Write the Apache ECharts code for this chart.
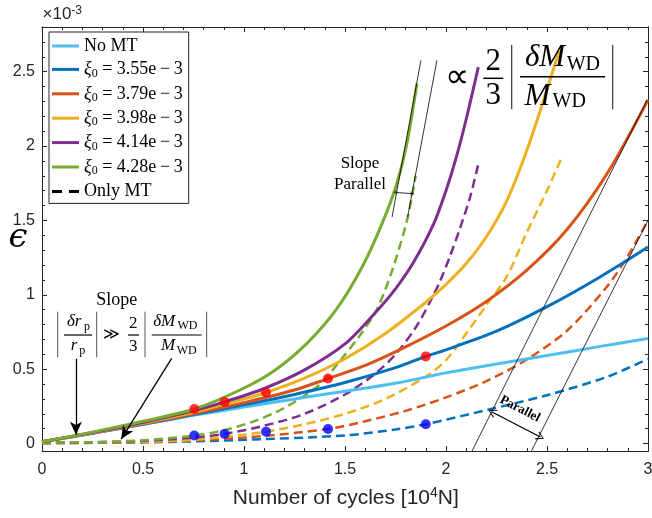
<!DOCTYPE html>
<html><head><meta charset="utf-8">
<script src="https://cdn.jsdelivr.net/npm/echarts@6/dist/echarts.min.js"></script>
<style>html,body{margin:0;padding:0;background:#fff}#c{width:652px;height:518px}</style>
</head><body><div id="c"></div>
<script>
// ---------- data (x in 10^4 N, y in 10^-3) ----------
const xTicks = [0, 0.5, 1, 1.5, 2, 2.5, 3];
const yTicks = [0, 0.5, 1, 1.5, 2, 2.5];
const yMinorTicks = [0,0.1,0.2,0.3,0.4,0.5,0.6,0.7,0.8,0.9,1.0,1.1,1.2,1.3,1.4,1.5,1.6,1.7,1.8,1.9,2.0,2.1,2.2,2.3,2.4,2.5,2.6,2.7,2.8];
const xRange = [0, 3];
const yRange = [-0.05, 2.8];

const legendNames = ['No MT', 'ξ0 = 3.55e−3', 'ξ0 = 3.79e−3', 'ξ0 = 3.98e−3', 'ξ0 = 4.14e−3', 'ξ0 = 4.28e−3', 'Only MT'];

const xNoMT = [0, 0.25, 0.5, 0.75, 1.0, 1.25, 1.5, 1.75, 2.0, 2.25, 2.5, 2.75, 3.0];
const yNoMT = [0.012, 0.07, 0.13, 0.19, 0.245, 0.3, 0.352, 0.405, 0.475, 0.535, 0.592, 0.65, 0.706];

const x355 = [0, 0.25, 0.5, 0.75, 1.0, 1.25, 1.5, 1.75, 1.9, 2.0, 2.25, 2.5, 2.75, 3.0];
const y355 = [0.012, 0.07, 0.13, 0.195, 0.26, 0.33, 0.41, 0.51, 0.586, 0.63, 0.755, 0.92, 1.11, 1.321];

const x379 = [0, 0.25, 0.5, 0.75, 1.0, 1.25, 1.416, 1.6, 1.8, 2.0, 2.2, 2.4, 2.6, 2.8, 3.0];
const y379 = [0.012, 0.071, 0.133, 0.2, 0.275, 0.36, 0.437, 0.525, 0.65, 0.79, 0.955, 1.165, 1.44, 1.82, 2.31];

const x398 = [0, 0.25, 0.5, 0.75, 1.0, 1.109, 1.3, 1.5, 1.7, 1.9, 2.0, 2.1, 2.2, 2.3, 2.4, 2.5, 2.56];
const y398 = [0.012, 0.072, 0.137, 0.21, 0.3, 0.343, 0.44, 0.57, 0.74, 0.95, 1.07, 1.21, 1.39, 1.63, 1.97, 2.38, 2.64];

const x414 = [0, 0.25, 0.5, 0.75, 0.904, 1.1, 1.3, 1.5, 1.65, 1.75, 1.84, 1.94, 2.0, 2.05, 2.1, 2.16];
const y414 = [0.012, 0.074, 0.142, 0.22, 0.28, 0.37, 0.495, 0.67, 0.88, 1.04, 1.22, 1.48, 1.7, 1.92, 2.18, 2.53];

const x428 = [0, 0.25, 0.5, 0.754, 0.98, 1.15, 1.31, 1.46, 1.59, 1.69, 1.757, 1.807, 1.856];
const y428 = [0.012, 0.077, 0.15, 0.232, 0.36, 0.49, 0.672, 0.907, 1.2, 1.5, 1.75, 2.02, 2.42];

// only mass transfer (dashed)
const xd355 = [0, 0.5, 1.0, 1.5, 1.75, 1.9, 2.2, 2.5, 2.8, 3.0];
const yd355 = [0.003, 0.008, 0.025, 0.055, 0.095, 0.13, 0.225, 0.325, 0.45, 0.57];

const xd379 = [0, 0.5, 1.0, 1.416, 1.6, 1.8, 2.0, 2.2, 2.4, 2.6, 2.8, 2.9, 3.0];
const yd379 = [0.004, 0.01, 0.04, 0.098, 0.15, 0.22, 0.31, 0.42, 0.565, 0.76, 1.06, 1.26, 1.5];

const xd398 = [0, 0.5, 0.75, 1.0, 1.109, 1.3, 1.5, 1.7, 1.9, 2.0, 2.1, 2.2, 2.3, 2.4, 2.5, 2.57];
const yd398 = [0.004, 0.012, 0.025, 0.06, 0.08, 0.13, 0.2, 0.3, 0.45, 0.56, 0.74, 0.93, 1.12, 1.42, 1.7, 1.915];

const xd414 = [0, 0.25, 0.5, 0.75, 0.904, 1.1, 1.3, 1.5, 1.65, 1.75, 1.85, 1.92, 1.97, 2.02, 2.07, 2.12, 2.16];
const yd414 = [0.004, 0.008, 0.018, 0.04, 0.065, 0.12, 0.2, 0.33, 0.47, 0.6, 0.78, 0.95, 1.09, 1.26, 1.45, 1.66, 1.88];

const xd428 = [0, 0.25, 0.5, 0.754, 0.9, 1.05, 1.2, 1.378, 1.477, 1.57, 1.657, 1.73, 1.807, 1.85];
const yd428 = [0.004, 0.01, 0.022, 0.054, 0.09, 0.15, 0.24, 0.4, 0.56, 0.72, 0.9, 1.15, 1.5, 1.8];

// marker dots
const xMarks = [0.754, 0.904, 1.109, 1.416, 1.9];
const yRedMarks = [0.232, 0.28, 0.343, 0.437, 0.586];
const yBlueMarks = [0.054, 0.065, 0.08, 0.098, 0.13];

// annotation guide lines
const xSlopeA = [1.733, 1.876], ySlopeA = [1.523, 2.576];
const xSlopeB = [1.810, 1.955], ySlopeB = [1.523, 2.576];
const xParC = [2.129, 2.995], yParC = [-0.05, 2.307];
const xParD = [2.423, 3.0], yParD = [-0.05, 1.5];
// arrows [start, end]
const arrowA = [[0.168, 0.57], [0.168, 0.06]];
const arrowB = [[0.642, 0.573], [0.392, 0.03]];
const arrowSlope = [[1.749, 1.688], [1.832, 1.68]];
const arrowPar = [[2.228, 0.212], [2.467, 0.044]];

// ---------- chart ----------
const SERIF = 'Liberation Serif';
const SANS = 'Liberation Sans';
const AX = '#262626';
const COL = {nomt:'#4DBEEE', b:'#0072BD', o:'#D95319', y:'#EDB120', p:'#7E2F8E', g:'#77AC30'};

function pairs(xs, ys){ return xs.map((x,i)=>[x, ys[i]]); }
function solidS(name, xs, ys, color){
  return {type:'line', name, data:pairs(xs,ys), symbol:'none', smooth:0.3,
    lineStyle:{color, width:3}, itemStyle:{color}, z:3, silent:true};
}
function dashS(name, xs, ys, color){
  return {type:'line', name, data:pairs(xs,ys), symbol:'none', smooth:0.3,
    lineStyle:{color, width:2.5, type:[9,5]}, itemStyle:{color}, z:2, silent:true};
}
function thinS(name, xs, ys, extra){
  return Object.assign({type:'line', name, data:pairs(xs,ys), symbol:'none',
    lineStyle:{color:'#000', width:0.8}, itemStyle:{color:'#000'}, z:4, silent:true}, extra||{});
}
function T(x, y, text, size, opt){
  opt = opt||{};
  const a = opt.align||'center', v = opt.valign||'middle';
  return {type:'text', x, y, z:100, silent:true, rotation: opt.rotation||0,
    style:{text, fill:opt.color||'#000', fontFamily:opt.family||SERIF, fontSize:size,
      fontStyle:opt.italic?'italic':'normal', fontWeight:opt.bold?'bold':'normal',
      align:a, textAlign:a, verticalAlign:v, textVerticalAlign:v, rich:opt.rich}};
}
function L(x1,y1,x2,y2,w,color){
  return {type:'line', z:100, silent:true, shape:{x1,y1,x2,y2}, style:{stroke:color||'#000', lineWidth:w||1}};
}
const chev = 'path://M5,0 L10,10 L9,10.6 L5,2.2 L1,10.6 L0,10 Z';
const iconSolid = 'path://M0,0 H27 V3 H0 Z';
const iconDash = 'path://M0,0 H10 V3 H0 Z M17,0 H27 V3 H17 Z';

const graphics = [
  // y axis name and exponent
  T(18, 238, 'ϵ', 34, {italic:true, family:'DejaVu Serif'}),
  T(42.5, 14, '{a|×10}{b|-3}', 17, {family:SANS, align:'left', color:AX, rich:{
    a:{fontFamily:SANS, fontSize:17, lineHeight:18, fill:AX, color:AX},
    b:{fontFamily:SANS, fontSize:12, lineHeight:10, verticalAlign:'top', fill:AX, color:AX}}}),
  // x axis name
  T(345.8, 498, '{a|Number of cycles [10}{b|4}{a|N]}', 21, {family:SANS, color:AX, rich:{
    a:{fontFamily:SANS, fontSize:21, lineHeight:24, fill:AX, color:AX},
    b:{fontFamily:SANS, fontSize:14, lineHeight:12, verticalAlign:'top', fill:AX, color:AX}}}),
  // left formula
  T(116.7, 300.7, 'Slope', 18),
  L(57.7,311.7,57.7,357.3,1,'#555'), L(96.7,311.7,96.7,357.3,1,'#555'),
  L(145,311.7,145,357.3,1,'#555'), L(206.7,311.7,206.7,357.3,1,'#555'),
  T(74.2, 321.7, 'δr', 17, {italic:true}), T(87, 326.7, 'p', 12),
  L(64,335,92,335,1.2),
  T(74, 346, 'r', 17, {italic:true}), T(82.2, 350.7, 'p', 12),
  T(111.7, 335, '≫', 16),
  T(133.3, 323.3, '2', 17), T(133.3, 346.7, '3', 17), L(128,335,139,335,1.2),
  T(164.2, 321.7, 'δM', 17, {italic:true}), T(187.5, 326, 'WD', 12),
  L(151.7,335,201.7,335,1.2),
  T(168, 346, 'M', 17, {italic:true}), T(186.7, 350.7, 'WD', 12),
  // big formula
  T(456.7, 78.3, '∝', 34),
  T(493.3, 61.7, '2', 31), T(493.3, 96, '3', 31), L(483.3,78.3,503.3,78.3,1.5),
  L(511.7,45,511.7,109.3,1.2,'#333'), L(612.7,45,612.7,109.3,1.2,'#333'),
  T(545, 58.3, 'δM', 31, {italic:true}), T(583.3, 65, 'WD', 20),
  L(520,76.7,605,76.7,1.5),
  T(537.5, 96.7, 'M', 31, {italic:true}), T(569.2, 101.7, 'WD', 20),
  // slope parallel label
  T(360, 164, 'Slope', 17), T(360, 184.3, 'Parallel', 17),
  // rotated Parallel
  T(520, 409, 'Parallel', 13, {bold:true, rotation:-0.478})
];

function legendFmt(name){
  if (name.indexOf('ξ0') === 0) {
    const v = name.split('=')[1].trim().replace('e−', 'e\u2009−\u2009');
    return '{i|ξ}{s|0}{n| = ' + v + '}';
  }
  return '{n|' + name + '}';
}

function yAxisCfg(pos, ticks, len, showLabel){
  return {type:'value', position:pos, min:yRange[0], max:yRange[1], gridIndex:0,
    axisLine:{show:true, onZero:false, lineStyle:{color:AX, width:1}},
    axisTick:{show:true, inside:true, length:len, customValues:ticks, lineStyle:{color:AX, width:1}},
    axisLabel:{show:showLabel, customValues:ticks, fontFamily:SANS, fontSize:16, color:AX, margin:7},
    splitLine:{show:false}, minorTick:{show:false}, minorSplitLine:{show:false}};
}
function xAxisCfg(pos, showLabel){
  return {type:'value', position:pos, min:xRange[0], max:xRange[1], interval:xTicks[1]-xTicks[0], gridIndex:0,
    axisLine:{show:true, onZero:false, lineStyle:{color:AX, width:1}},
    axisTick:{show:true, inside:true, length:5, lineStyle:{color:AX, width:1}},
    minorTick:{show:true, splitNumber:5, length:3, lineStyle:{color:AX, width:1}},
    axisLabel:{show:showLabel, fontFamily:SANS, fontSize:16, color:AX, margin:11},
    splitLine:{show:false}, minorSplitLine:{show:false}};
}

const legendData = legendNames.map(n => ({name:n, icon: n === 'Only MT' ? iconDash : iconSolid}));

const option = {
  animation:false,
  backgroundColor:'#fff',
  grid:{left:42, top:27, width:606, height:424, containLabel:false, outerBoundsMode:'none'},
  xAxis:[xAxisCfg('bottom', true), xAxisCfg('top', false)],
  yAxis:[yAxisCfg('left', yTicks, 5, true), yAxisCfg('left', yMinorTicks, 3, false),
         yAxisCfg('right', yTicks, 5, false), yAxisCfg('right', yMinorTicks, 3, false)],
  legend:{
    data:legendData, orient:'vertical', left:49, top:32,
    padding:[5,6,3,3], itemGap:5.4, itemWidth:27, itemHeight:3, symbolKeepAspect:false,
    backgroundColor:'#fff', borderColor:AX, borderWidth:1, borderRadius:0,
    selectedMode:false, formatter:legendFmt,
    textStyle:{fontFamily:SERIF, fontSize:18, color:'#000', width:112, rich:{
      i:{fontFamily:SERIF, fontStyle:'italic', fontSize:18, lineHeight:20},
      s:{fontFamily:SERIF, fontSize:12, lineHeight:9, verticalAlign:'bottom'},
      n:{fontFamily:SERIF, fontSize:18, lineHeight:20}}}
  },
  graphic:graphics,
  series:[
    dashS('d355', xd355, yd355, COL.b),
    dashS('d379', xd379, yd379, COL.o),
    dashS('d398', xd398, yd398, COL.y),
    dashS('d414', xd414, yd414, COL.p),
    dashS('d428', xd428, yd428, COL.g),
    solidS('No MT', xNoMT, yNoMT, COL.nomt),
    solidS(legendNames[1], x355, y355, COL.b),
    solidS(legendNames[2], x379, y379, COL.o),
    solidS(legendNames[3], x398, y398, COL.y),
    solidS(legendNames[4], x414, y414, COL.p),
    solidS(legendNames[5], x428, y428, COL.g),
    {type:'line', name:'Only MT', data:[], symbol:'none', lineStyle:{color:'#000', width:2.5, type:[8,5]}, itemStyle:{color:'#000'}},
    thinS('gA', xSlopeA, ySlopeA),
    thinS('gB', xSlopeB, ySlopeB),
    thinS('gC', xParC, yParC),
    thinS('gD', xParD, yParD, {markLine:{
      silent:true, animation:false, label:{show:false}, emphasis:{disabled:true},
      lineStyle:{color:'#000', width:1.3, type:'solid'},
      symbol:['none','arrow'], symbolSize:[9,13],
      data:[
        [{coord:arrowA[0]}, {coord:arrowA[1]}],
        [{coord:arrowB[0]}, {coord:arrowB[1]}],
        [{coord:arrowSlope[0], symbol:chev, symbolSize:[4,4], lineStyle:{width:0.8}}, {coord:arrowSlope[1], symbol:chev, symbolSize:[4,4]}],
        [{coord:arrowPar[0], symbol:chev, symbolSize:[9,8]}, {coord:arrowPar[1], symbol:chev, symbolSize:[9,8]}]
      ]}}),
    {type:'scatter', name:'red', data:pairs(xMarks, yRedMarks), symbol:'circle', symbolSize:10,
      itemStyle:{color:'#FF0000'}, z:10, silent:true},
    {type:'scatter', name:'blue', data:pairs(xMarks, yBlueMarks), symbol:'circle', symbolSize:10,
      itemStyle:{color:'#0000FF'}, z:10, silent:true}
  ]
};
const chart = echarts.init(document.getElementById('c'));
chart.setOption(option);
</script></body></html>
